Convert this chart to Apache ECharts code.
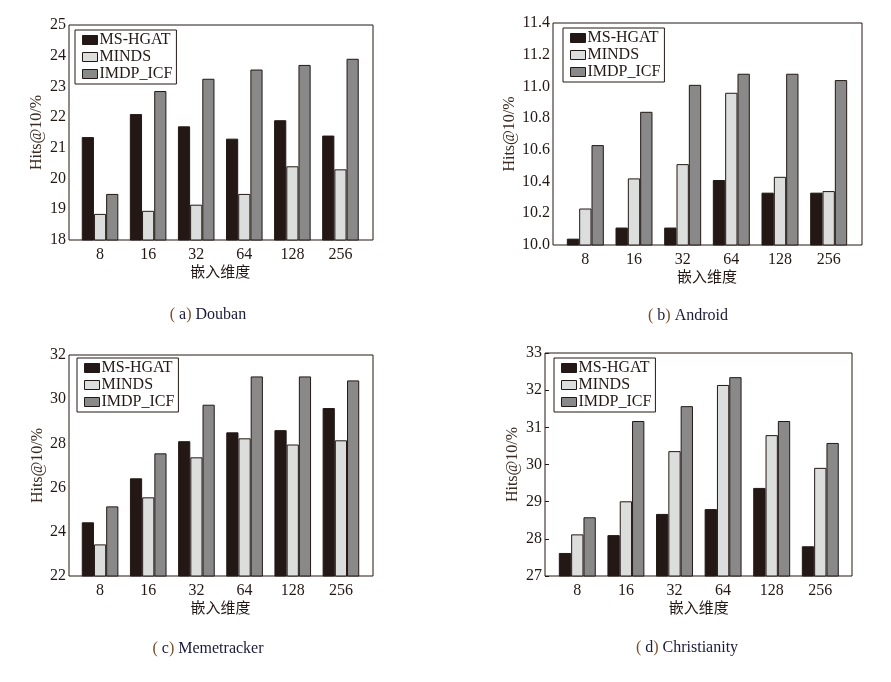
<!DOCTYPE html>
<html><head><meta charset="utf-8">
<script src="https://cdn.jsdelivr.net/npm/echarts@6/dist/echarts.min.js"></script>
<style>html,body{margin:0;padding:0;background:#fff}#c{width:891px;height:682px}</style>
</head><body><div id="c"></div>
<script>
const categories = ['8','16','32','64','128','256'];
const seriesNames = ['MS-HGAT','MINDS','IMDP_ICF'];
// (a) Douban
const doubanMSHGAT = [21.35, 22.1, 21.7, 21.3, 21.9, 21.4];
const doubanMINDS  = [18.85, 18.95, 19.15, 19.5, 20.4, 20.3];
const doubanIMDP   = [19.5, 22.85, 23.25, 23.55, 23.7, 23.9];
// (b) Android
const androidMSHGAT = [10.04, 10.11, 10.11, 10.41, 10.33, 10.33];
const androidMINDS  = [10.23, 10.42, 10.51, 10.96, 10.43, 10.34];
const androidIMDP   = [10.63, 10.84, 11.01, 11.08, 11.08, 11.04];
// (c) Memetracker
const memeMSHGAT = [24.43, 26.42, 28.1, 28.5, 28.6, 29.6];
const memeMINDS  = [23.43, 25.56, 27.37, 28.23, 27.95, 28.14];
const memeIMDP   = [25.15, 27.55, 29.75, 31.03, 31.03, 30.85];
// (d) Christianity
const chrMSHGAT = [27.62, 28.1, 28.67, 28.8, 29.37, 27.8];
const chrMINDS  = [28.12, 29.01, 30.36, 32.14, 30.79, 29.91];
const chrIMDP   = [28.58, 31.17, 31.57, 32.35, 31.17, 30.58];

const yTicks = [
  {min:18, max:25, interval:1, dec:0},
  {min:10.0, max:11.4, interval:0.2, dec:1},
  {min:22, max:32, interval:2, dec:0},
  {min:27, max:33, interval:1, dec:0}
];
const captionLetters = ['a','b','c','d'];
const captionNames = ['Douban','Android','Memetracker','Christianity'];
const panelData = [
  [doubanMSHGAT, doubanMINDS, doubanIMDP],
  [androidMSHGAT, androidMINDS, androidIMDP],
  [memeMSHGAT, memeMINDS, memeIMDP],
  [chrMSHGAT, chrMINDS, chrIMDP]
];

const colors = ['#231815','#dcdddd','#898989'];
const serif = '"Liberation Serif", "DejaVu Serif", serif';
const txt = '#231815';

// outer frames
const frames = [
  {left:69, top:25, width:304, height:215},
  {left:553, top:23, width:309, height:222},
  {left:69, top:355, width:304, height:221},
  {left:545, top:353, width:307, height:223}
];
// inner category extents (frame has side padding)
const inners = [
  {left:76, width:288.5},
  {left:561, width:292},
  {left:76, width:289},
  {left:553, width:291.6}
];
const legendPos = [
  {left:75, top:30}, {left:563, top:28}, {left:77, top:358}, {left:554, top:358}
];
const captionPos = [
  {x:203, y:302}, {x:683, y:303}, {x:203, y:636}, {x:682, y:635}
];
const yNameGap = [24, 35, 23, 24];
const xNameGap = [22, 20, 20, 20];
const showYTicks = [false, false, false, true];

const gridList = [];
frames.forEach(f => gridList.push(Object.assign({show:true, borderColor:'#231815', borderWidth:1, backgroundColor:'transparent'}, f)));
frames.forEach((f,i) => gridList.push({show:false, left:inners[i].left, width:inners[i].width, top:f.top, height:f.height}));

const xAxes = [], yAxes = [];
frames.forEach((f,i)=>{
  xAxes.push({type:'category', gridIndex:i, show:false, data:categories});
  yAxes.push({type:'value', gridIndex:i, show:false});
});
frames.forEach((f,i)=>{
  const t = yTicks[i];
  xAxes.push({
    type:'category', gridIndex:4+i, data:categories,
    name:'嵌入维度', nameLocation:'middle', nameGap:xNameGap[i],
    nameTextStyle:{fontFamily:'"Noto Sans CJK SC", sans-serif', fontSize:15, color:txt},
    axisLine:{show:false}, axisTick:{show:false},
    axisLabel:{fontFamily:serif, fontSize:16, color:txt, margin:7}
  });
  yAxes.push({
    type:'value', gridIndex:4+i, min:t.min, max:t.max, interval:t.interval,
    offset: inners[i].left - f.left,
    name:'Hits@10/%', nameLocation:'middle', nameGap:yNameGap[i], nameRotate:90,
    nameTextStyle:{fontFamily:serif, fontSize:16, color:'#3b2a20'},
    axisLine:{show:false},
    axisTick:{show:showYTicks[i], inside:true, length:4, lineStyle:{color:'#231815'}},
    splitLine:{show:false},
    axisLabel:{fontFamily:serif, fontSize:16, color:txt, margin:3,
      formatter: v => Number(v).toFixed(t.dec)}
  });
});

const option = {
  animation:false,
  backgroundColor:'#fff',
  grid: gridList,
  title: captionNames.map((n,i)=>({
    text:'{p|( }{l|' + captionLetters[i] + '}{p|)} {l|' + n + '}',
    left:captionPos[i].x, top:captionPos[i].y, textAlign:'center',
    textStyle:{fontFamily:serif, fontSize:16, fontWeight:'normal', color:'#1a1a3a',
      rich:{p:{fontFamily:serif, fontSize:16, color:'#7a4e2a'}, l:{fontFamily:serif, fontSize:16, color:'#1a1a3a'}}}
  })),
  legend: frames.map((g,i)=>({
    data: seriesNames, orient:'vertical', left:legendPos[i].left, top:legendPos[i].top,
    borderColor:'#231815', borderWidth:1, backgroundColor:'#fff', padding:[2,4,2,7],
    itemGap:1, itemWidth:15, itemHeight:9, icon:'rect', selectedMode:false,
    textStyle:{fontFamily:serif, fontSize:16, color:txt, padding:[0,0,0,-3], lineHeight:16},
    itemStyle:{borderColor:'#231815', borderWidth:1}
  })),
  xAxis: xAxes,
  yAxis: yAxes,
  series: []
};
panelData.forEach((arrs,i)=>{
  arrs.forEach((arr,j)=>{
    option.series.push({
      type:'bar', name:seriesNames[j], xAxisIndex:4+i, yAxisIndex:4+i, data:arr,
      barGap:'0%', barCategoryGap:'24%',
      itemStyle:{color:colors[j], borderColor:'#231815', borderWidth:1}
    });
  });
});
const chart = echarts.init(document.getElementById('c'));
chart.setOption(option);
</script></body></html>
